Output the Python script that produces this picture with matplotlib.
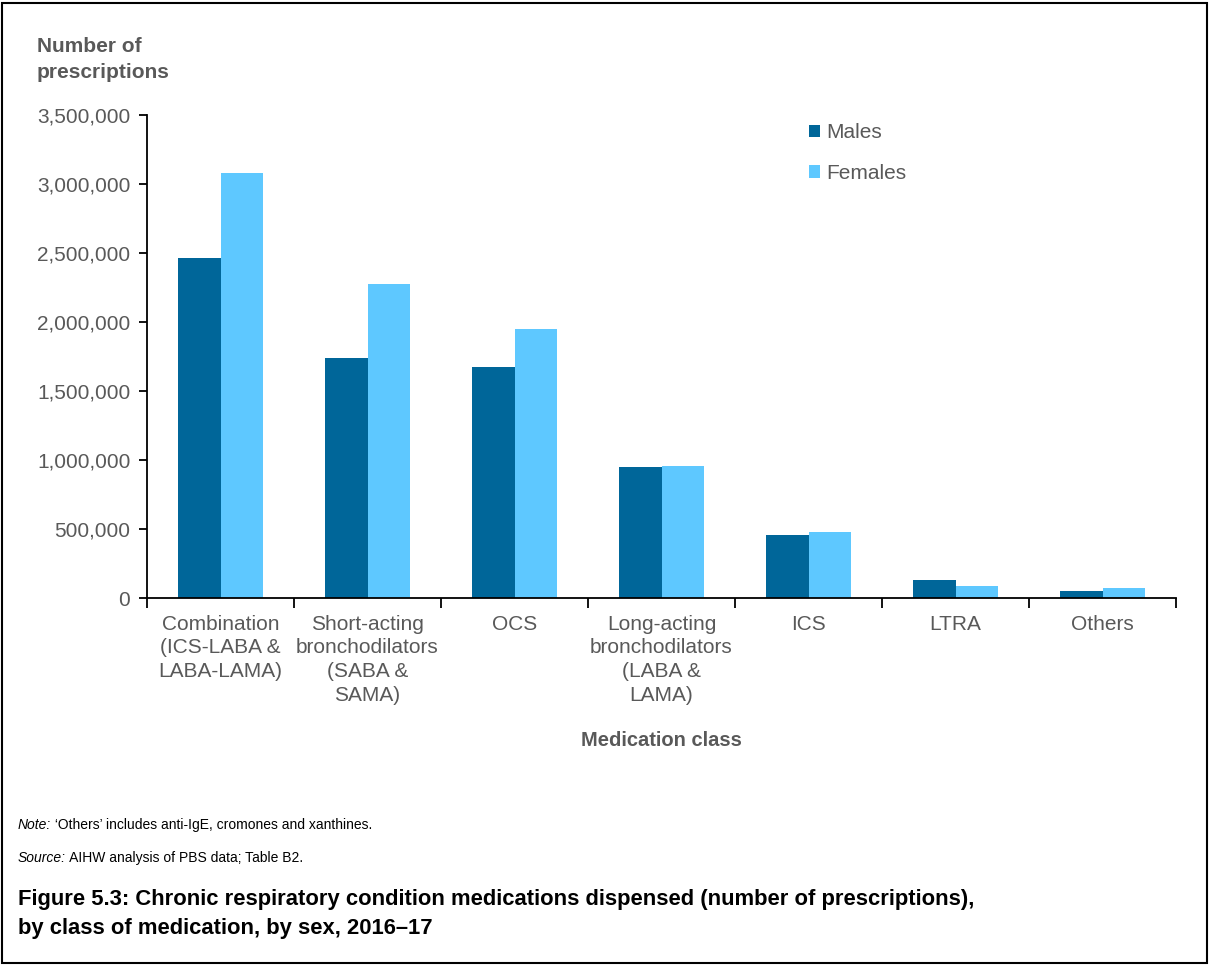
import matplotlib.pyplot as plt
import numpy as np
from matplotlib.ticker import FuncFormatter
from matplotlib.patches import Rectangle

plt.rcParams['font.family'] = ['Liberation Sans', 'DejaVu Sans']

categories = ['Combination\n(ICS-LABA &\nLABA-LAMA)',
              'Short-acting\nbronchodilators\n(SABA &\nSAMA)',
              'OCS',
              'Long-acting\nbronchodilators\n(LABA &\nLAMA)',
              'ICS', 'LTRA', 'Others']
males = [2462000, 1738000, 1674000, 950000, 457000, 130000, 50000]
females = [3078000, 2273000, 1948000, 956000, 478000, 87000, 72000]
yticks = [0, 500000, 1000000, 1500000, 2000000, 2500000, 3000000, 3500000]

dark = '#006699'
light = '#5ec8ff'
grey = '#595959'

fig = plt.figure(figsize=(12.11, 9.65), dpi=100)
ax = fig.add_axes([0.1214, 0.3803, 0.8497, 0.5005])

x = np.arange(len(categories))
w = 0.286
ax.bar(x - w / 2, males, w, color=dark, label='Males')
ax.bar(x + w / 2, females, w, color=light, label='Females')

ax.set_xlim(-0.5, len(categories) - 0.5)
ax.set_ylim(0, 3500000)
ax.set_yticks(yticks)
ax.yaxis.set_major_formatter(FuncFormatter(lambda v, p: '{:,.0f}'.format(v)))
ax.tick_params(axis='y', labelsize=15, labelcolor=grey, length=6,
               width=1.3, pad=6)

# category ticks sit on the boundaries, labels in the middle
ax.set_xticks(np.arange(-0.5, len(categories), 1))
ax.set_xticklabels([])
ax.set_xticks(x, minor=True)
ax.set_xticklabels(categories, minor=True, fontsize=15, color=grey,
                   linespacing=1.32)
ax.tick_params(axis='x', which='major', length=7, width=1.3)
ax.tick_params(axis='x', which='minor', length=0, pad=12)

for s in ['top', 'right']:
    ax.spines[s].set_visible(False)
ax.spines['left'].set_linewidth(1.3)
ax.spines['bottom'].set_linewidth(1.3)

ax.set_xlabel('Medication class', fontsize=14.5, fontweight='bold',
              color=grey, labelpad=19)

fig.text(0.0306, 0.962, 'Number of\nprescriptions', fontsize=15,
         fontweight='bold', color=grey, va='top', linespacing=1.47)

ax.legend(loc='upper left', bbox_to_anchor=(0.625, 1.022), frameon=False,
          fontsize=15, labelcolor=grey, handlelength=0.55, handleheight=0.55,
          handletextpad=0.3, labelspacing=1.05)

# note and source lines: italic lead word, then plain text right after it
fig.canvas.draw()
r = fig.canvas.get_renderer()
for lead, rest, y in [('Note:', ' \u2018Others\u2019 includes anti-IgE, cromones and xanthines.', 0.141),
                      ('Source:', ' AIHW analysis of PBS data; Table B2.', 0.107)]:
    t = fig.text(0.0149, y, lead, fontsize=10, style='italic', va='baseline')
    bb = t.get_window_extent(renderer=r)
    fig.text(bb.x1 / fig.bbox.width, y, rest, fontsize=10, va='baseline')

fig.text(0.0149, 0.053,
         'Figure 5.3: Chronic respiratory condition medications dispensed '
         '(number of prescriptions),\nby class of medication, by sex, 2016\u201317',
         fontsize=15.8, fontweight='bold', va='center', linespacing=1.5)

fig.add_artist(Rectangle((0.002, 0.002), 0.995, 0.995, transform=fig.transFigure,
                         fill=False, edgecolor='black', linewidth=1.5))

fig.savefig('out.png', dpi=100)
